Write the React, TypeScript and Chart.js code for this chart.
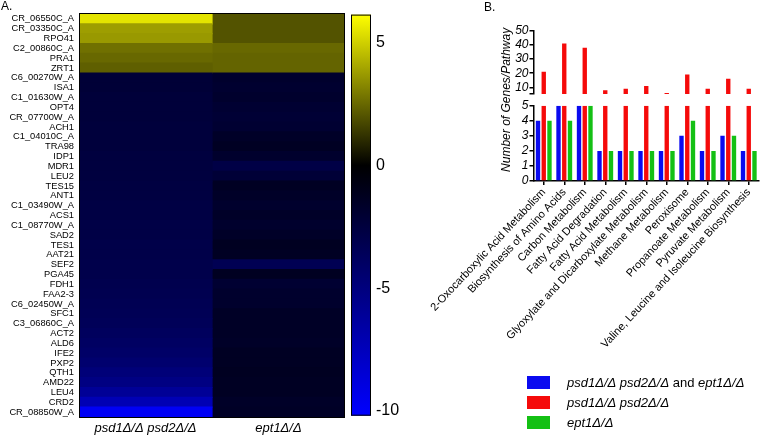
import React, { useEffect, useRef } from 'react';
import { Chart, registerables } from 'chart.js';

Chart.register(...registerables);

// ---------- Panel A: heatmap data ----------
const genes = [
  'CR_06550C_A', 'CR_03350C_A', 'RPO41', 'C2_00860C_A', 'PRA1', 'ZRT1', 'C6_00270W_A', 'ISA1',
  'C1_01630W_A', 'OPT4', 'CR_07700W_A', 'ACH1', 'C1_04010C_A', 'TRA98', 'IDP1', 'MDR1', 'LEU2',
  'TES15', 'ANT1', 'C1_03490W_A', 'ACS1', 'C1_08770W_A', 'SAD2', 'TES1', 'AAT21', 'SEF2', 'PGA45',
  'FDH1', 'FAA2-3', 'C6_02450W_A', 'SFC1', 'C3_06860C_A', 'ACT2', 'ALD6', 'IFE2', 'PXP2', 'QTH1',
  'AMD22', 'LEU4', 'CRD2', 'CR_08850W_A',
];
const heatColumns = ['psd1Δ/Δ psd2Δ/Δ', 'ept1Δ/Δ'];
const psdValues = [
  5.5, 3.8, 3.7, 2.7, 2.5, 2.3, -2.2, -2.2, -2.3, -2.3, -2.3, -2.4, -2.4, -2.4, -2.5, -2.5, -2.5,
  -2.6, -2.6, -2.7, -2.7, -2.8, -2.8, -2.9, -2.9, -3.0, -3.0, -3.1, -3.2, -3.3, -3.4, -3.5, -3.7,
  -3.9, -4.1, -4.4, -4.8, -5.2, -6.0, -7.2, -9.8,
];
const ept1Values = [
  2.0, 2.0, 2.0, 2.5, 2.4, 2.4, -1.8, -1.9, -1.8, -2.0, -2.1, -2.0, -1.6, -1.4, -1.8, -2.8, -2.2,
  -1.4, -1.6, -1.8, -1.6, -1.8, -1.6, -1.3, -1.4, -3.3, -1.3, -2.0, -1.8, -1.8, -1.5, -1.5, -1.5,
  -1.6, -1.4, -1.4, -1.3, -1.4, -1.4, -1.6, -1.5,
];
const colorMin = -10.2;
const colorMax = 6.15;
const colorTicks = [5, 0, -5, -10];

// ---------- Panel B: bar data ----------
const pathways = [
  '2-Oxocarboxylic Acid Metabolism', 'Biosynthesis of Amino Acids', 'Carbon Metabolism',
  'Fatty Acid Degradation', 'Fatty Acid Metabolism', 'Glyoxylate and Dicarboxylate Metabolism',
  'Methane Metabolism', 'Peroxisome', 'Propanoate Metabolism', 'Pyruvate Metabolism',
  'Valine, Leucine and Isoleucine Biosynthesis',
];
const bothCounts = [4, 5, 5, 2, 2, 2, 2, 3, 2, 3, 2];
const psdCounts = [21, 41, 38, 8, 9, 11, 6, 19, 9, 16, 9];
const ept1Counts = [4, 4, 5, 2, 2, 2, 2, 4, 2, 3, 2];
const lowerTicks = [0, 1, 2, 3, 4, 5];
const upperTicks = [10, 20, 30, 40, 50];
const lowerMax = 5;
const upperMin = 5.3;
const upperMax = 50;
const legendLabels = ['psd1Δ/Δ psd2Δ/Δ and ept1Δ/Δ', 'psd1Δ/Δ psd2Δ/Δ', 'ept1Δ/Δ'];
const yTitle = 'Number of Genes/Pathway';

const FONT = '"Liberation Sans", Arial, sans-serif';
const BLUE = '#0a0af0';
const RED = '#f50a0a';
const GREEN = '#14c014';

// panel B canvas offset on the page
const B_LEFT = 400;
const B_AXIS_W = 533.5 - B_LEFT;

function heatColor(v: number): string {
  if (v >= 0) {
    const c = Math.round(255 * Math.min(1, v / colorMax));
    return `rgb(${c},${c},0)`;
  }
  const b = Math.round(255 * Math.min(1, v / colorMin));
  return `rgb(0,0,${b})`;
}

export default function App() {
  const heatRef = useRef<HTMLCanvasElement>(null);
  const cbRef = useRef<HTMLCanvasElement>(null);
  const barRef = useRef<HTMLCanvasElement>(null);

  useEffect(() => {
    const charts: Chart[] = [];

    // ---- Heatmap ----
    const frame = {
      id: 'frame',
      afterDatasetsDraw(chart: any) {
        const { ctx, chartArea: a } = chart;
        ctx.save();
        ctx.strokeStyle = '#000';
        ctx.lineWidth = 1;
        ctx.strokeRect(a.left + 0.5, a.top - 0.5, a.right - a.left - 1, a.bottom - a.top + 1);
        ctx.fillStyle = '#000';
        ctx.font = `12px ${FONT}`;
        ctx.textBaseline = 'middle';
        ctx.textAlign = 'left';
        ctx.fillText('A.', 1, 7);
        ctx.restore();
      },
    };
    charts.push(
      new Chart(heatRef.current!, {
        type: 'bar',
        data: {
          labels: genes,
          datasets: heatColumns.map((name, ci) => {
            const vals = ci === 0 ? psdValues : ept1Values;
            return {
              label: name,
              data: vals.map(() => [ci, ci + 1]) as any,
              backgroundColor: vals.map(heatColor),
              borderWidth: 0,
              inflateAmount: 0.6,
              barPercentage: 1,
              categoryPercentage: 1,
              grouped: false,
            };
          }),
        },
        options: {
          indexAxis: 'y',
          animation: false,
          responsive: false,
          layout: { padding: { top: 14, right: 5, left: 0, bottom: 0 } },
          plugins: { legend: { display: false }, tooltip: { enabled: false } },
          scales: {
            y: {
              type: 'category',
              grid: { display: false, drawTicks: false },
              border: { display: false },
              ticks: { autoSkip: false, color: '#000', padding: 5, font: { size: 9.3, family: FONT } },
              afterFit: (s: any) => { s.width = 79; },
            },
            x: {
              type: 'linear',
              min: 0,
              max: heatColumns.length,
              grid: { display: false, drawTicks: false },
              border: { display: false },
              afterBuildTicks: (s: any) => { s.ticks = heatColumns.map((_, i) => ({ value: i + 0.5 })); },
              ticks: {
                callback: (_v: any, i: number) => heatColumns[i],
                color: '#000',
                maxRotation: 0,
                minRotation: 0,
                padding: 4,
                font: { size: 13, style: 'italic', family: FONT },
              },
              afterFit: (s: any) => { s.height = 21; },
            },
          },
        } as any,
        plugins: [frame],
      })
    );

    // ---- Colorbar ----
    const cbFrame = {
      id: 'cbFrame',
      afterDatasetsDraw(chart: any) {
        const { ctx, chartArea: a } = chart;
        ctx.save();
        ctx.strokeStyle = '#000';
        ctx.lineWidth = 1;
        ctx.strokeRect(a.left + 0.5, a.top + 0.5, a.right - a.left - 1, a.bottom - a.top - 1);
        ctx.restore();
      },
    };
    charts.push(
      new Chart(cbRef.current!, {
        type: 'bar',
        data: {
          labels: [''],
          datasets: [
            {
              data: [[colorMin, colorMax]] as any,
              backgroundColor: (c: any) => {
                const chart = c.chart;
                const y = chart.scales.y;
                if (!chart.chartArea || !y) return '#000';
                const y0 = y.getPixelForValue(colorMin);
                const y1 = y.getPixelForValue(colorMax);
                const g = chart.ctx.createLinearGradient(0, y0, 0, y1);
                const z = (0 - colorMin) / (colorMax - colorMin);
                g.addColorStop(0, heatColor(colorMin));
                g.addColorStop(z, '#000');
                g.addColorStop(1, heatColor(colorMax));
                return g;
              },
              borderWidth: 0,
              barPercentage: 1,
              categoryPercentage: 1,
            },
          ],
        },
        options: {
          animation: false,
          responsive: false,
          layout: { padding: { top: 11.7, left: 11, bottom: 22.3, right: 0 } },
          plugins: { legend: { display: false }, tooltip: { enabled: false } },
          scales: {
            x: { display: false },
            y: {
              position: 'right',
              min: colorMin,
              max: colorMax,
              grid: { display: false, drawTicks: false },
              border: { display: false },
              afterBuildTicks: (s: any) => { s.ticks = colorTicks.map((v) => ({ value: v })); },
              ticks: { color: '#000', padding: 5, font: { size: 16, family: FONT } },
              afterFit: (s: any) => { s.width = 39; },
            },
          },
        } as any,
        plugins: [cbFrame],
      })
    );

    // ---- Bar chart with broken axis ----
    const legendPlugin = {
      id: 'customLegend',
      afterDraw(chart: any) {
        const { ctx } = chart;
        ctx.save();
        ctx.fillStyle = '#000';
        ctx.font = `12px ${FONT}`;
        ctx.textBaseline = 'middle';
        ctx.textAlign = 'left';
        ctx.fillText('B.', 484 - B_LEFT, 8);
        const ds = chart.data.datasets.slice(0, 3);
        ds.forEach((d: any, i: number) => {
          const top = 376 + i * 20;
          ctx.fillStyle = d.backgroundColor;
          ctx.fillRect(527 - B_LEFT, top, 23, 13);
          const parts = String(d.label).split(' and ');
          let x = 567 - B_LEFT;
          const yc = top + 7;
          ctx.fillStyle = '#000';
          parts.forEach((p: string, k: number) => {
            if (k > 0) {
              ctx.font = `13px ${FONT}`;
              ctx.fillText(' and ', x, yc);
              x += ctx.measureText(' and ').width;
            }
            ctx.font = `italic 13px ${FONT}`;
            ctx.fillText(p, x, yc);
            x += ctx.measureText(p).width;
          });
        });
        ctx.restore();
      },
    };
    const yTickFont = { size: 12, style: 'italic', family: FONT };
    charts.push(
      new Chart(barRef.current!, {
        type: 'bar',
        data: {
          labels: pathways,
          datasets: [
            { label: legendLabels[0], data: bothCounts, backgroundColor: BLUE, yAxisID: 'yLower', stack: 'both' },
            { label: legendLabels[1], data: psdCounts.map((v) => Math.min(v, lowerMax)), backgroundColor: RED, yAxisID: 'yLower', stack: 'psd' },
            { label: legendLabels[2], data: ept1Counts, backgroundColor: GREEN, yAxisID: 'yLower', stack: 'ept1' },
            { label: legendLabels[1] + ' upper', data: psdCounts.map((v) => [upperMin, v]) as any, backgroundColor: RED, yAxisID: 'yUpper', stack: 'psd' },
          ] as any,
        },
        options: {
          animation: false,
          responsive: false,
          layout: { padding: { top: 30.7, right: 1, left: 0, bottom: 0 } },
          datasets: { bar: { categoryPercentage: 0.84, barPercentage: 0.76, borderWidth: 0 } },
          plugins: { legend: { display: false }, tooltip: { enabled: false } },
          scales: {
            x: {
              type: 'category',
              grid: { display: true, drawOnChartArea: false, offset: false, tickLength: 4, color: '#000', lineWidth: 1.5 },
              border: { color: '#000', width: 1.5 },
              ticks: { autoSkip: false, minRotation: 47, maxRotation: 47, color: '#000', padding: 1, font: { size: 11, family: FONT } },
              afterFit: (s: any) => {
                s.height = 438 - 181;
                s.paddingLeft = 0;
                s.paddingRight = 0;
              },
            },
            yLower: {
              type: 'linear',
              position: 'left',
              stack: 'broken',
              stackWeight: 75.3,
              stacked: false,
              min: 0,
              max: lowerMax,
              afterBuildTicks: (s: any) => { s.ticks = lowerTicks.map((v) => ({ value: v })); },
              grid: { display: true, drawOnChartArea: false, tickLength: 4, color: '#000', lineWidth: 1.5 },
              border: { color: '#000', width: 1.5 },
              ticks: { autoSkip: false, color: '#000', padding: 1, font: yTickFont },
              afterFit: (s: any) => { s.width = B_AXIS_W; s.paddingTop = 0; s.paddingBottom = 0; },
            },
            yGap: {
              type: 'linear',
              position: 'left',
              stack: 'broken',
              stackWeight: 11.7,
              min: 0,
              max: 1,
              grid: { display: false, drawTicks: false },
              border: { display: false },
              ticks: { display: false },
              title: { display: true, text: yTitle, color: '#000', padding: { top: 507 - B_LEFT - 7.2, bottom: 0 }, font: { size: 12, style: 'italic', family: FONT } },
              afterFit: (s: any) => { s.width = B_AXIS_W; s.paddingTop = 0; s.paddingBottom = 0; },
            },
            yUpper: {
              type: 'linear',
              position: 'left',
              stack: 'broken',
              stackWeight: 63.3,
              stacked: false,
              min: upperMin,
              max: upperMax,
              afterBuildTicks: (s: any) => { s.ticks = [upperMin, ...upperTicks].map((v) => ({ value: v })); },
              grid: { display: true, drawOnChartArea: false, tickLength: 4, color: '#000', lineWidth: 1.5 },
              border: { color: '#000', width: 1.5 },
              ticks: { autoSkip: false, color: '#000', padding: 1, font: yTickFont, callback: (v: any) => (upperTicks.includes(v) ? String(v) : '') },
              afterFit: (s: any) => { s.width = B_AXIS_W; s.paddingTop = 0; s.paddingBottom = 0; },
            },
          },
        } as any,
        plugins: [legendPlugin],
      })
    );

    return () => charts.forEach((c) => c.destroy());
  }, []);

  return (
    <div style={{ position: 'absolute', left: 0, top: 0, width: 760, height: 438, background: '#fff' }}>
      <canvas ref={barRef} width={760 - B_LEFT} height={438} style={{ position: 'absolute', left: B_LEFT, top: 0, width: 760 - B_LEFT, height: 438 }} />
      <canvas ref={heatRef} width={350} height={438} style={{ position: 'absolute', left: 0, top: 0, width: 350, height: 438 }} />
      <canvas ref={cbRef} width={70} height={438} style={{ position: 'absolute', left: 340, top: 0, width: 70, height: 438 }} />
    </div>
  );
}
